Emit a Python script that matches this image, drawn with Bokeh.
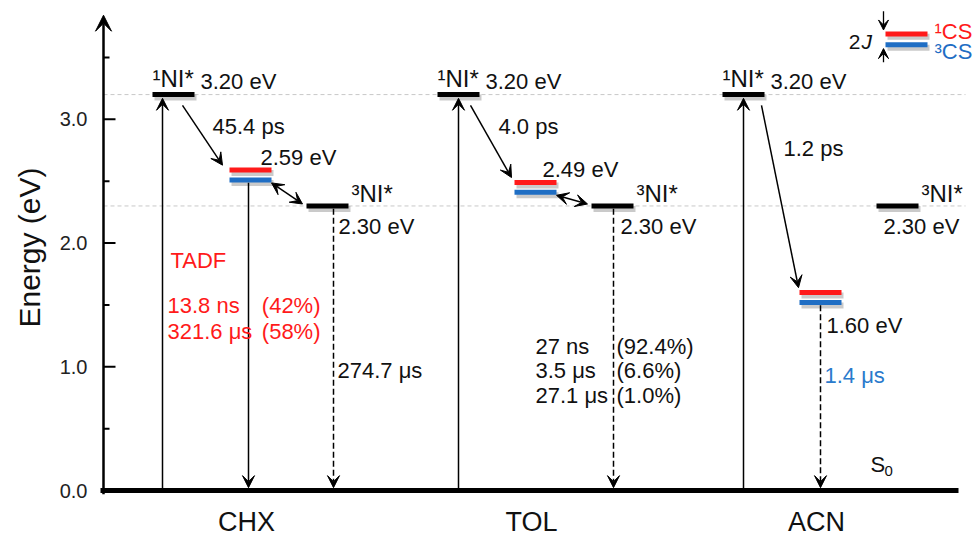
from bokeh.plotting import figure
from bokeh.models import (Range1d, FixedTicker, Arrow, VeeHead, Label, ColumnDataSource,
                          PrintfTickFormatter)
from bokeh.embed import file_html
from bokeh.resources import INLINE

# ---------------- data ----------------
solvents = ["CHX", "TOL", "ACN"]
e_s1 = [3.20, 3.20, 3.20]          # 1NI* energy (eV)
e_cs = [2.59, 2.49, 1.60]          # CS state energy (eV)
e_t1 = [2.30, 2.30, 2.30]          # 3NI* energy (eV)
cs_time = ["45.4 ps", "4.0 ps", "1.2 ps"]
chx_tadf_tau = ["13.8 ns", "321.6 \u03bcs"]
chx_tadf_amp = ["(42%)", "(58%)"]
chx_t1_tau = "274.7 \u03bcs"
tol_tau = ["27 ns", "3.5 \u03bcs", "27.1 \u03bcs"]
tol_amp = ["(92.4%)", "(6.6%)", "(1.0%)"]
acn_cs_tau = "1.4 \u03bcs"
y_ticks = [0, 1, 2, 3]
y_minor = [0.5, 1.5, 2.5, 3.5]

# ---------------- layout ----------------
W, H = 974, 539
FRAME_L = 92                    # frame left edge (px)
AXIS_X = 103                    # drawn y axis line (px)
FRAME_T = 0
ARROW_TIP = 15                  # tip of y axis arrow (px row)
ZERO_Y = 499                    # pixel row of 0 eV
FRAME_B = 503                   # frame bottom (px)
PX = 126.0                      # pixels per eV
COL0, STEP = 152, 285           # x of each solvent column
FONT = "Liberation Sans"
RED, BLUE = "#FF1A1A", "#1F6EC4"
BLUE_TXT = "#2A7ACC"
GAP = 0.08                      # red/blue bar separation (eV)
HT = 0.022                      # half thickness of a level bar (eV)

def d(px):
    return px / PX

def row(py):                    # pixel row -> energy
    return (ZERO_Y - py) / PX

p = figure(width=W, height=H, x_range=Range1d(FRAME_L, W),
           y_range=Range1d(row(FRAME_B), row(FRAME_T)),
           output_backend="svg", toolbar_location=None,
           min_border_left=FRAME_L, min_border_right=0, min_border_top=FRAME_T,
           min_border_bottom=H - FRAME_B)
p.outline_line_color = None
p.xgrid.visible = False
p.ygrid.visible = False
p.background_fill_color = "white"
p.border_fill_color = "white"

# y axis: labels from Bokeh's axis, tick marks drawn at the arrow line
ya = p.yaxis[0]
ya.ticker = FixedTicker(ticks=y_ticks, minor_ticks=y_minor)
ya.formatter = PrintfTickFormatter(format="%.1f")
ya.axis_line_color = None
ya.major_tick_line_color = None
ya.minor_tick_line_color = None
ya.major_tick_out = 0
ya.minor_tick_out = 0
ya.major_tick_in = 0
ya.minor_tick_in = 0
ya.major_label_text_font = FONT
ya.major_label_text_font_size = "20px"
ya.major_label_text_color = "#222222"
ya.major_label_standoff = 5
ya.axis_label = "Energy (eV)"
ya.axis_label_text_font = FONT
ya.axis_label_text_font_size = "30px"
ya.axis_label_text_font_style = "normal"
ya.axis_label_text_color = "#111111"
ya.axis_label_standoff = 11

p.segment(x0=[AXIS_X] * len(y_ticks), x1=[AXIS_X + 12] * len(y_ticks), y0=y_ticks, y1=y_ticks,
          line_color="black", line_width=2)
p.segment(x0=[AXIS_X] * len(y_minor), x1=[AXIS_X + 6] * len(y_minor), y0=y_minor, y1=y_minor,
          line_color="black", line_width=2)

# x axis with solvent names
xa = p.xaxis[0]
centers = [COL0 + STEP * i + 94 for i in range(3)]
xa.ticker = FixedTicker(ticks=centers)
xa.major_label_overrides = {c: s for c, s in zip(centers, solvents)}
xa.axis_line_color = None
xa.major_tick_line_color = None
xa.minor_tick_line_color = None
xa.major_label_text_font = FONT
xa.major_label_text_font_size = "27px"
xa.major_label_text_color = "#111111"
xa.major_label_standoff = 6

# y axis line with arrow head, and the thick ground line
p.add_layout(Arrow(x_start=AXIS_X, y_start=row(FRAME_B), x_end=AXIS_X, y_end=row(ARROW_TIP),
                   line_width=2.5,
                   end=VeeHead(size=16, fill_color="black", line_color="black", line_width=1)))
p.add_layout(Arrow(x_start=100, y_start=0, x_end=958, y_end=0, line_width=5, end=None))

# reference dashed lines
p.segment(x0=[AXIS_X, AXIS_X], y0=[e_s1[0], e_t1[0]], x1=[965, 965], y1=[e_s1[0], e_t1[0]],
          line_color="#C8C8C8", line_width=1, line_dash="4 3")

# ---------------- levels ----------------
bx = [COL0 + STEP * i for i in range(3)]
S1 = (0, 42)
CS = (77, 119)
T1 = (154, 196)
sh_dx, sh_dy = 2, d(3)

def bars(x0s, x1s, ys, color):
    p.segment(x0=[x + sh_dx for x in x0s], x1=[x + sh_dx for x in x1s],
              y0=[y - sh_dy for y in ys], y1=[y - sh_dy for y in ys],
              line_color="#8A8A8A", line_alpha=0.45, line_width=6)
    p.segment(x0=x0s, x1=x1s, y0=ys, y1=ys, line_color=color, line_width=5)

bars([b + S1[0] for b in bx], [b + S1[1] for b in bx], e_s1, "black")
bars([b + T1[0] for b in bx], [b + T1[1] for b in bx], e_t1, "black")
bars([b + CS[0] for b in bx], [b + CS[1] for b in bx], e_cs, RED)
bars([b + CS[0] for b in bx], [b + CS[1] for b in bx], [e - GAP for e in e_cs], BLUE)

# ---------------- arrows ----------------
def head(size=12):
    return VeeHead(size=size, fill_color="black", line_color="black", line_width=1)

def arrows(xs0, ys0, xs1, ys1, dash="solid", both=False, lw=1.5, size=12):
    src = ColumnDataSource(dict(x0=xs0, y0=ys0, x1=xs1, y1=ys1))
    p.add_layout(Arrow(x_start="x0", y_start="y0", x_end="x1", y_end="y1", source=src,
                       line_width=lw, line_dash=dash, line_color="black",
                       end=head(size), start=head(size) if both else None))

bottom_tip = d(3)
up_dx = [10, 21, 21]
# excitation arrows
arrows([b + u for b, u in zip(bx, up_dx)], [0] * 3,
       [b + u for b, u in zip(bx, up_dx)], [e - HT - d(1) for e in e_s1])
# charge separation arrows
cs_sx = [30, 33, 39]
cs_ex = [70, 74, 76]
arrows([b + s for b, s in zip(bx, cs_sx)], [e - d(11) for e in e_s1],
       [b + s for b, s in zip(bx, cs_ex)], [e + d(5) for e in e_cs])
# CS <-> 3NI* (CHX, TOL)
arrows([bx[i] + 119 for i in (0, 1)], [e_cs[i] - GAP - d(3) for i in (0, 1)],
       [bx[i] + 150 for i in (0, 1)], [e_t1[i] + d(2) for i in (0, 1)], both=True)
# CHX emission from CS (solid)
arrows([bx[0] + 96], [e_cs[0] - GAP - HT], [bx[0] + 96], [bottom_tip])
# dashed decays: CHX 3NI*, TOL 3NI*, ACN CS
arrows([bx[0] + 181, bx[1] + 176, bx[2] + 98],
       [e_t1[0] - HT, e_t1[1] - HT, e_cs[2] - GAP - HT],
       [bx[0] + 181, bx[1] + 176, bx[2] + 98],
       [bottom_tip] * 3, dash="6 3")

# ---------------- text ----------------
def lab(x, y, t, size=22, color="#111111", align="left", style="normal"):
    p.add_layout(Label(x=x, y=y, text=t, text_font=FONT, text_font_size=f"{size}px",
                       text_color=color, text_align=align, text_baseline="middle",
                       text_font_style=style))

t1_lab_dx = [186, 183, 161]
for i, b in enumerate(bx):
    lab(b, e_s1[i] + d(16), "\u00b9NI*", size=24)
    lab(b + 48, e_s1[i] + d(13), f"{e_s1[i]:.2f} eV")
    lab(b + 199, e_t1[i] + d(13), "\u00b3NI*", size=24)
    lab(b + t1_lab_dx[i], e_t1[i] - d(21), f"{e_t1[i]:.2f} eV")

lab(bx[0] + 60, e_s1[0] - d(33), cs_time[0])
lab(bx[1] + 61, e_s1[1] - d(33), cs_time[1])
lab(bx[2] + 61, e_s1[2] - d(55), cs_time[2])

lab(bx[0] + 108, e_cs[0] + d(13), f"{e_cs[0]:.2f} eV")
lab(bx[1] + 105, e_cs[1] + d(13), f"{e_cs[1]:.2f} eV")
lab(bx[2] + 104, e_cs[2] - d(34), f"{e_cs[2]:.2f} eV")

# CHX TADF block
lab(bx[0] + 18, row(265), "TADF", color=RED)
for k in range(2):
    yy = row(311 + 26 * k)
    lab(bx[0] + 15, yy, chx_tadf_tau[k], color=RED)
    lab(bx[0] + 168, yy, chx_tadf_amp[k], color=RED, align="right")
lab(bx[0] + 185, row(377), chx_t1_tau)

# TOL lifetimes
for k in range(3):
    yy = row(352 + 25 * k)
    lab(bx[1] + 98, yy, tol_tau[k])
    lab(bx[1] + 179, yy, tol_amp[k])

# ACN
lab(bx[2] + 102, row(382), acn_cs_tau, color=BLUE_TXT)
lab(870, row(472), "S", size=22)
lab(884, row(479), "0", size=15)

# ---------------- 2J legend (top right) ----------------
p.segment(x0=[887, 887], x1=[929, 929], y0=[row(37), row(48)], y1=[row(37), row(48)],
          line_color="#8A8A8A", line_alpha=0.45, line_width=6)
p.segment(x0=[885, 885], x1=[927, 927], y0=[row(34), row(45)], y1=[row(34), row(45)],
          line_color=[RED, BLUE], line_width=5)
arrows([883], [row(11)], [883], [row(30)], lw=1.3, size=10)
arrows([883], [row(63)], [883], [row(49)], lw=1.3, size=10)
lab(860, row(42), "2", size=21, align="right")
lab(861, row(42), "J", size=21, style="italic")
lab(934, row(32), "\u00b9CS", size=22, color=RED)
lab(934, row(52), "\u00b3CS", size=22, color=BLUE)

open("out.html", "w").write(file_html(p, INLINE))
